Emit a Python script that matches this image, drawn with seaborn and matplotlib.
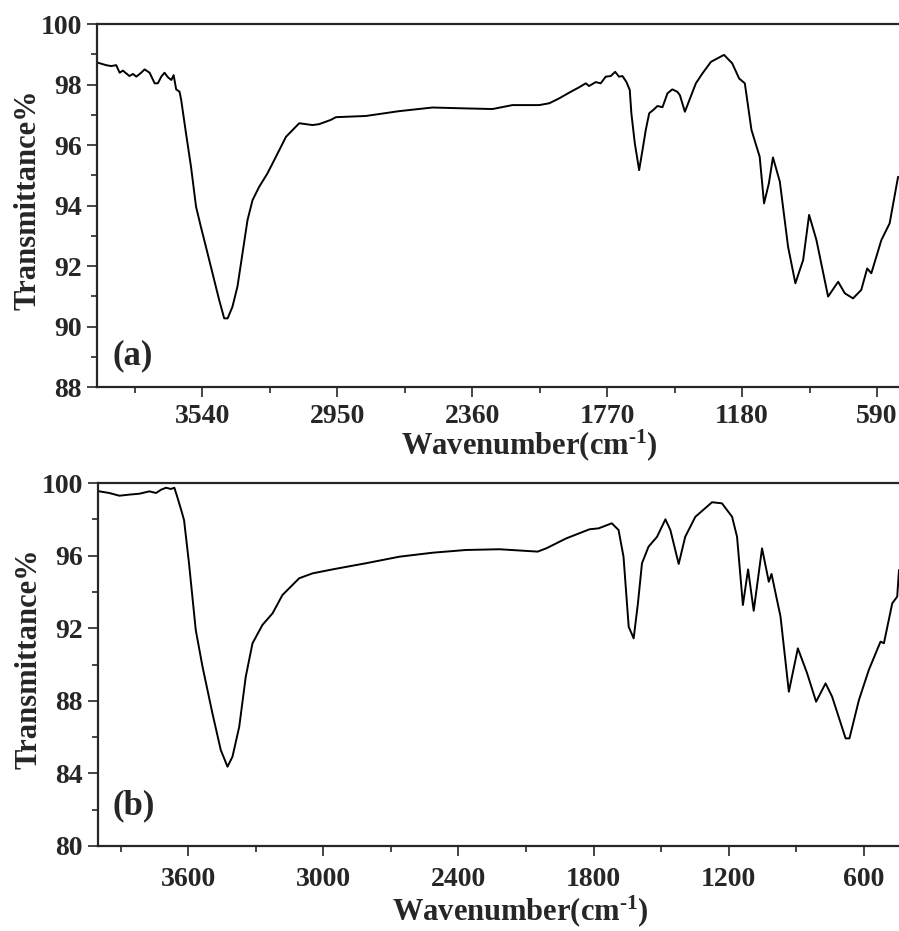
import numpy as np
import pandas as pd
import matplotlib
matplotlib.use('Agg')
import matplotlib.pyplot as plt
from matplotlib.ticker import MultipleLocator, FixedLocator
import seaborn as sns

# spectrum (a)
wn_a = [4002, 3996, 3960, 3938, 3916, 3901, 3887, 3858, 3843, 3828, 3807, 3792, 3770,
        3748, 3734, 3719, 3705, 3690, 3675, 3665, 3654, 3639, 3632, 3611, 3589,
        3567, 3546, 3524, 3495, 3466, 3444, 3429, 3408, 3386, 3364, 3342, 3320, 3291,
        3255, 3218, 3174, 3116, 3058, 3029, 2978, 2956, 2825, 2679, 2533, 2388, 2271,
        2184, 2067, 2023, 1980, 1936, 1892, 1863, 1849, 1820, 1798, 1776, 1754, 1735,
        1718, 1703, 1686, 1671, 1664, 1649, 1630, 1613, 1601, 1586, 1565, 1550, 1528,
        1506, 1485, 1463, 1452, 1430, 1382, 1353, 1316, 1259, 1223, 1193, 1168, 1139,
        1103, 1084, 1063, 1045, 1015, 979, 947, 913, 887, 855, 804, 760, 731, 695, 659,
        633, 615, 571, 535, 498]
t_a = [98.75, 98.72, 98.64, 98.61, 98.64, 98.39, 98.46, 98.28, 98.35, 98.26, 98.39, 98.50,
       98.39, 98.04, 98.04, 98.26, 98.39, 98.24, 98.15, 98.31, 97.84, 97.76, 97.49, 96.39,
       95.28, 93.96, 93.30, 92.64, 91.76, 90.88, 90.27, 90.27, 90.65, 91.32, 92.42, 93.52,
       94.18, 94.62, 95.06, 95.61, 96.27, 96.72, 96.66, 96.69, 96.83, 96.92, 96.96, 97.12,
       97.24, 97.21, 97.19, 97.32, 97.32, 97.38, 97.54, 97.73, 97.91, 98.04, 97.95, 98.08,
       98.04, 98.26, 98.28, 98.42, 98.26, 98.28, 98.09, 97.82, 97.05, 96.06, 95.17, 95.94,
       96.50, 97.05, 97.18, 97.29, 97.25, 97.71, 97.84, 97.76, 97.65, 97.10, 98.04, 98.37,
       98.75, 98.98, 98.70, 98.20, 98.04, 96.50, 95.61, 94.07, 94.73, 95.59, 94.79, 92.64,
       91.43, 92.20, 93.69, 92.86, 90.99, 91.48, 91.10, 90.93, 91.21, 91.92, 91.76, 92.86,
       93.41, 94.95]

# spectrum (b)
wn_b = [4002, 3994, 3950, 3905, 3861, 3816, 3772, 3742, 3720, 3698, 3676, 3661, 3649,
        3631, 3618, 3596, 3566, 3536, 3492, 3455, 3425, 3403, 3373, 3344, 3314, 3270,
        3225, 3181, 3107, 3048, 2959, 2810, 2662, 2514, 2366, 2218, 2114, 2048, 2010,
        1921, 1818, 1778, 1719, 1689, 1667, 1644, 1622, 1603, 1585, 1556, 1518, 1481,
        1459, 1422, 1393, 1348, 1274, 1230, 1185, 1163, 1137, 1114, 1089, 1052, 1022,
        1010, 970, 933, 893, 852, 812, 770, 741, 681, 664, 622, 578, 526, 511, 474, 452, 444]
t_b = [99.58, 99.54, 99.45, 99.30, 99.36, 99.41, 99.54, 99.45, 99.63, 99.74, 99.67, 99.74,
       99.27, 98.53, 97.96, 95.58, 91.90, 89.88, 87.31, 85.29, 84.37, 84.92, 86.57, 89.33,
       91.17, 92.18, 92.82, 93.83, 94.75, 95.02, 95.24, 95.58, 95.94, 96.16, 96.31, 96.35,
       96.27, 96.22, 96.40, 96.95, 97.45, 97.50, 97.78, 97.41, 95.94, 92.08, 91.44, 93.37,
       95.58, 96.49, 97.04, 98.00, 97.41, 95.54, 97.04, 98.14, 98.94, 98.88, 98.14, 97.04,
       93.28, 95.24, 92.96, 96.40, 94.56, 94.99, 92.64, 88.50, 90.89, 89.52, 87.95, 88.96,
       88.23, 85.93, 85.93, 88.04, 89.70, 91.26, 91.17, 93.37, 93.74, 95.21]

df_a = pd.DataFrame({'wn': wn_a, 't': t_a})
df_b = pd.DataFrame({'wn': wn_b, 't': t_b})

sns.set_style('ticks')
plt.rcParams['font.family'] = ['Liberation Serif', 'DejaVu Serif']
plt.rcParams['font.weight'] = 'bold'
plt.rcParams['mathtext.fontset'] = 'custom'
plt.rcParams['mathtext.rm'] = 'Liberation Serif:bold'
plt.rcParams['mathtext.bf'] = 'Liberation Serif:bold'
plt.rcParams['mathtext.sf'] = 'Liberation Serif'
plt.rcParams['mathtext.default'] = 'bf'

fig = plt.figure(figsize=(8.99, 9.31), dpi=100)
ax1 = fig.add_axes([0.1079, 0.5843, 0.8921, 0.3899])
ax2 = fig.add_axes([0.1090, 0.0913, 0.8910, 0.3899])

panels = [
    (ax1, df_a, (4000, 494), (88, 100), 2, 1, [3540, 2950, 2360, 1770, 1180, 590], 590, '(a)', 0.085, 5),
    (ax2, df_b, (4000, 444), (80, 100), 4, 2, [3600, 3000, 2400, 1800, 1200, 600], 600, '(b)', 0.11, 8),
]

for ax, df, xl, yl, ymaj, ymin, xt, step, tag, tag_y, xpad in panels:
    sns.lineplot(data=df, x='wn', y='t', ax=ax, color='black', linewidth=1.4,
                 sort=False, estimator=None)
    ax.set_xlim(*xl)
    ax.set_ylim(*yl)
    ax.xaxis.set_major_locator(FixedLocator(xt))
    ax.xaxis.set_minor_locator(FixedLocator([v + step / 2 for v in xt]))
    ax.yaxis.set_major_locator(MultipleLocator(ymaj))
    ax.yaxis.set_minor_locator(MultipleLocator(ymin))
    ax.tick_params(which='major', direction='out', length=7, width=1.2, labelsize=20)
    ax.tick_params(axis='y', which='major', pad=4)
    ax.tick_params(axis='x', which='major', pad=xpad)
    ax.tick_params(which='minor', direction='out', length=4, width=1.2)
    ax.spines['right'].set_visible(False)
    for s in ['left', 'top', 'bottom']:
        ax.spines[s].set_linewidth(1.6)
    ax.set_ylabel('Transmittance%', fontsize=22, fontweight='bold', va='center')
    ax.yaxis.set_label_coords(-0.086, 0.515)
    ax.text(0.045, tag_y, tag, transform=ax.transAxes, fontsize=25, fontweight='bold',
            ha='center', va='center')

ax1.set_xlabel(r'Wavenumber$\mathsf{(}$cm$^{\text{-1}}$$\mathsf{)}$', fontsize=22,
               fontweight='bold', va='center')
ax1.xaxis.set_label_coords(0.539, -0.16)
ax2.set_xlabel(r'Wavenumber(cm$^{\text{-1}}$)', fontsize=22, fontweight='bold', va='center')
ax2.xaxis.set_label_coords(0.527, -0.18)

fig.savefig('out.png', dpi=100)
